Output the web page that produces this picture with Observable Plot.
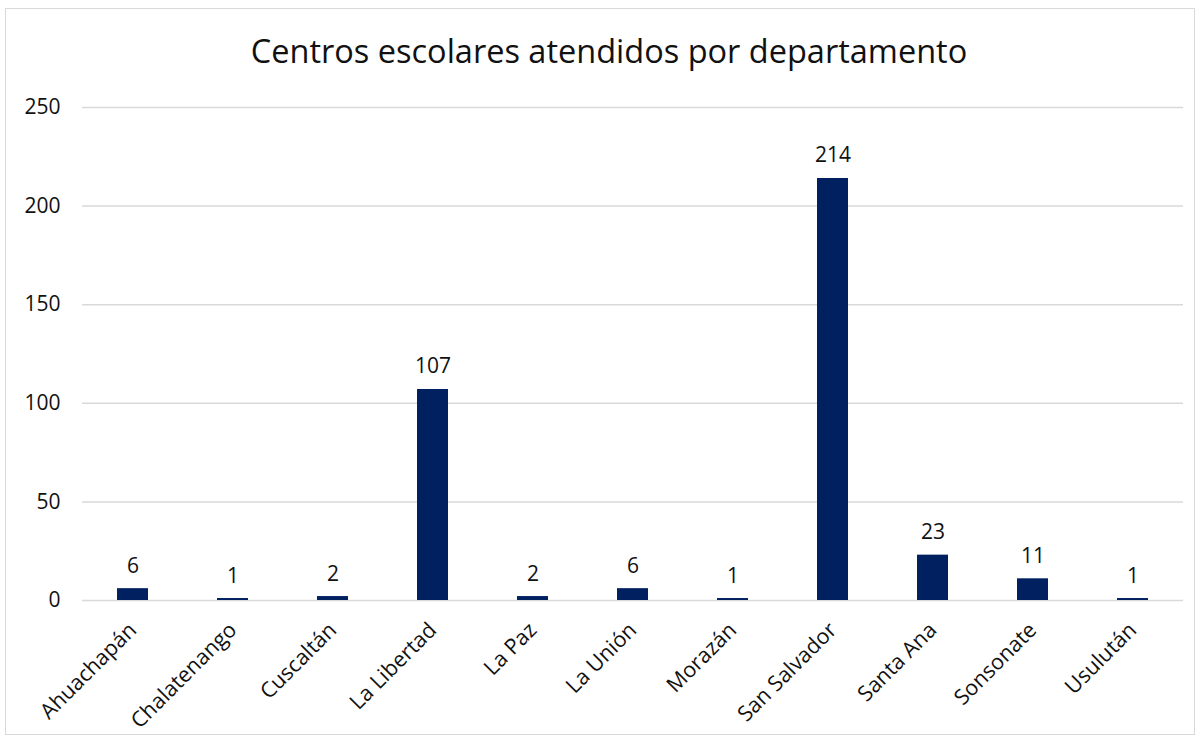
<!DOCTYPE html>
<html>
<head>
<meta charset="utf-8">
<script src="https://cdn.jsdelivr.net/npm/d3@7"></script>
<script src="https://cdn.jsdelivr.net/npm/@observablehq/plot@0.6"></script>
<style>
  html, body { margin: 0; padding: 0; background: #fff; }
  #wrap { position: relative; width: 1204px; height: 744px; font-family: "Open Sans", sans-serif; }
  #border { position: absolute; left: 5px; top: 8px; width: 1190px; height: 727px; border: 1.5px solid #d9d9d9; box-sizing: border-box; }
  #title { position: absolute; left: 5px; width: 1208px; top: 31px; text-align: center; font-size: 32.5px; color: #111; line-height: 1.2; }
  #chart { position: absolute; left: 0; top: 0; }
</style>
</head>
<body>
<div id="wrap">
  <div id="border"></div>
  <div id="chart"></div>
  <div id="title">Centros escolares atendidos por departamento</div>
</div>
<script>
const titleText = "Centros escolares atendidos por departamento";
const departamentos = ["Ahuachapán", "Chalatenango", "Cuscaltán", "La Libertad", "La Paz", "La Unión", "Morazán", "San Salvador", "Santa Ana", "Sonsonate", "Usulután"];
const centros = [6, 1, 2, 107, 2, 6, 1, 214, 23, 11, 1];
const yTicks = [0, 50, 100, 150, 200, 250];

const data = departamentos.map((d, i) => ({departamento: d, centros: centros[i]}));

const chart = Plot.plot({
  width: 1204,
  height: 744,
  marginLeft: 82,
  marginRight: 21,
  marginTop: 107,
  marginBottom: 144,
  style: {fontFamily: "Open Sans, sans-serif", fontSize: "21px", color: "#111", background: "transparent"},
  x: {domain: departamentos, padding: 0.69, paddingOuter: 0.345, label: null},
  y: {domain: [0, 250], ticks: yTicks, label: null},
  marks: [
    Plot.gridY(yTicks, {stroke: "#d9d9d9", strokeOpacity: 1, strokeWidth: 1.5}),
    Plot.barY(data, {x: "departamento", y: "centros", fill: "#002060"}),
    Plot.text(data, {x: "departamento", y: "centros", text: d => String(d.centros), lineAnchor: "bottom", dy: -16, fontSize: 21, fill: "#111"}),
    Plot.axisY(yTicks, {tickSize: 0, tickPadding: 22, fontSize: 21, label: null}),
    Plot.axisX({tickSize: 0, tickRotate: -45, tickPadding: 26, fontSize: 21.5, label: null})
  ]
});
document.getElementById("chart").appendChild(chart);
</script>
</body>
</html>
